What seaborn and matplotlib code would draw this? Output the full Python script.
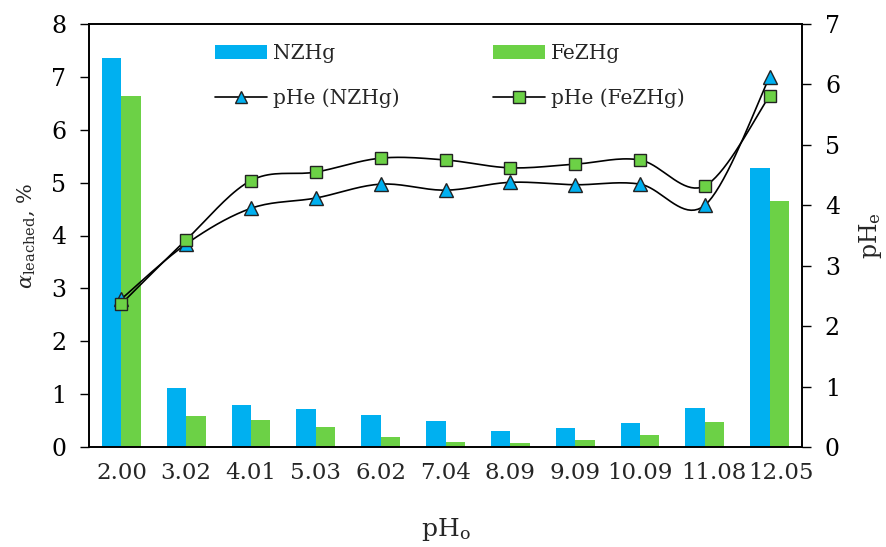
import numpy as np
import pandas as pd
import seaborn as sb
from matplotlib import pyplot as plt
from matplotlib import transforms
from matplotlib.patches import Patch
from matplotlib.lines import Line2D

# data
ph_o = ['2.00', '3.02', '4.01', '5.03', '6.02', '7.04', '8.09', '9.09', '10.09', '11.08', '12.05']
leach_nzhg = [7.35, 1.12, 0.79, 0.72, 0.60, 0.50, 0.30, 0.35, 0.46, 0.74, 5.27]
leach_fezhg = [6.64, 0.59, 0.52, 0.37, 0.18, 0.09, 0.08, 0.13, 0.23, 0.47, 4.65]
phe_nzhg = [2.45, 3.36, 3.95, 4.12, 4.35, 4.25, 4.38, 4.34, 4.35, 4.00, 6.12]
phe_fezhg = [2.37, 3.43, 4.41, 4.55, 4.78, 4.75, 4.62, 4.68, 4.75, 4.32, 5.81]

blue = '#00B0F0'
green = '#6CD146'

df = pd.DataFrame({
    'pHo': ph_o * 2,
    'alpha': leach_nzhg + leach_fezhg,
    'material': ['NZHg'] * len(ph_o) + ['FeZHg'] * len(ph_o),
})


def smooth(yvals, n=20):
    # excel-style smoothed line (catmull-rom through the points)
    y = np.asarray(yvals, dtype=float)
    x = np.arange(len(y), dtype=float)
    xs, ys = [], []
    for i in range(len(y) - 1):
        p0 = (x[max(i - 1, 0)], y[max(i - 1, 0)])
        p1 = (x[i], y[i])
        p2 = (x[i + 1], y[i + 1])
        p3 = (x[min(i + 2, len(y) - 1)], y[min(i + 2, len(y) - 1)])
        c1 = (p1[0] + (p2[0] - p0[0]) / 6, p1[1] + (p2[1] - p0[1]) / 6)
        c2 = (p2[0] - (p3[0] - p1[0]) / 6, p2[1] - (p3[1] - p1[1]) / 6)
        t = np.linspace(0, 1, n)
        for k in range(2):
            pts = [p1[k], c1[k], c2[k], p2[k]]
            b = ((1 - t) ** 3 * pts[0] + 3 * (1 - t) ** 2 * t * pts[1]
                 + 3 * (1 - t) * t ** 2 * pts[2] + t ** 3 * pts[3])
            (xs if k == 0 else ys).append(b)
    return np.concatenate(xs), np.concatenate(ys)


sb.set_style('white')
plt.rcParams['font.family'] = ['DejaVu Serif']
plt.rcParams['mathtext.fontset'] = 'dejavuserif'

fig = plt.figure(figsize=(8.87, 5.47), dpi=100)
ax = fig.add_axes([89 / 887, 1 - 447 / 547, (802 - 89) / 887, (447 - 24) / 547])

sb.barplot(data=df, x='pHo', y='alpha', hue='material', palette=[blue, green],
           width=0.6, gap=0, saturation=1, ax=ax, legend=False, linewidth=0)
ax.set_ylim(0, 8)
ax.set_xlim(-0.5, len(ph_o) - 0.5)
ax.set_yticks(range(0, 9))
ax.tick_params(axis='y', direction='out', length=6.5, width=1, pad=10,
               labelsize=17, left=True, colors='black')
ax.tick_params(axis='x', length=0, pad=11, labelsize=16.5)
ax.set_xlabel('pH$_\\mathrm{o}$', fontsize=18, labelpad=23)
ax.set_ylabel('$\\alpha_{\\mathrm{leached}}$, %', fontsize=15, labelpad=10)
for sp in ax.spines.values():
    sp.set_color('black')
    sp.set_linewidth(1.2)

# last two category labels sit a little to the right in the original
for lbl, dx in zip(ax.get_xticklabels()[-2:], [9, 11]):
    lbl.set_transform(lbl.get_transform() + transforms.ScaledTranslation(dx / 100, 0, fig.dpi_scale_trans))

ax2 = ax.twinx()
for vals, mk, col, ms in [(phe_nzhg, '^', blue, 9.5), (phe_fezhg, 's', green, 9)]:
    sx, sy = smooth(vals)
    ax2.plot(sx, sy, color='black', lw=1.2, zorder=2)
    ax2.plot(range(len(vals)), vals, ls='none', marker=mk, ms=ms, mfc=col,
             mec='#222222', mew=1, zorder=3)
ax2.set_ylim(0, 7)
ax2.set_yticks(range(0, 8))
ax2.tick_params(axis='y', direction='out', length=6.5, width=1, pad=10,
                labelsize=17, right=True, colors='black')
ax2.set_ylabel('pH$_\\mathrm{e}$', fontsize=17, labelpad=12)
for sp in ax2.spines.values():
    sp.set_color('black')
    sp.set_linewidth(1.2)
ax2.grid(False)
ax.grid(False)

handles = [
    Patch(facecolor=blue, edgecolor='none', label='NZHg'),
    Line2D([], [], color='black', lw=1.2, marker='^', ms=9, mfc=blue, mec='#222222', label='pHe (NZHg)'),
    Patch(facecolor=green, edgecolor='none', label='FeZHg'),
    Line2D([], [], color='black', lw=1.2, marker='s', ms=8, mfc=green, mec='#222222', label='pHe (FeZHg)'),
]
fig.legend(handles=handles, ncol=2, loc='upper left', bbox_to_anchor=(215 / 887, 1 - 44 / 547),
           frameon=False, fontsize=14.5, handlelength=2.6, handleheight=0.75,
           handletextpad=0.3, labelspacing=1.25, columnspacing=4.6,
           borderpad=0, borderaxespad=0)

plt.savefig('out.png', dpi=100)
